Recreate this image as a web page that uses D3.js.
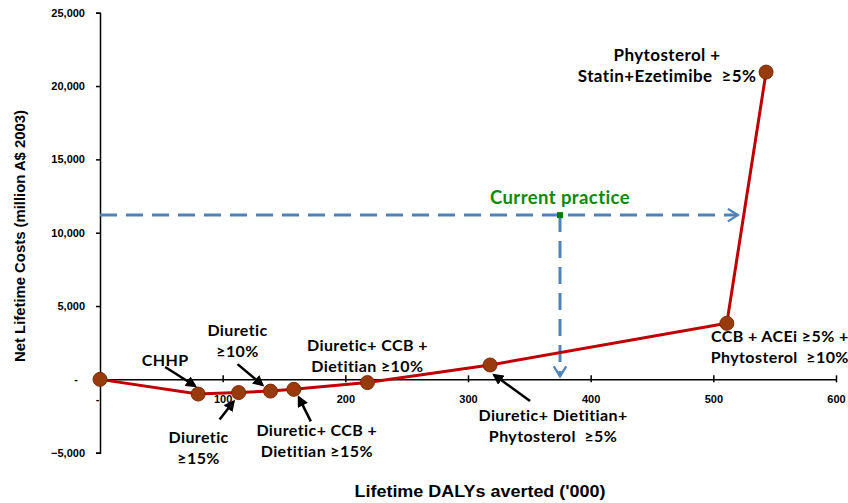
<!DOCTYPE html>
<html>
<head>
<meta charset="utf-8">
<script src="https://cdn.jsdelivr.net/npm/d3@7"></script>
<style>
  body { margin: 0; background: #fff; }
  svg text { font-family: "Liberation Sans", Arial, sans-serif; }
  .note { font-family: Lato, "Open Sans", sans-serif; font-weight: bold; font-size: 16px; fill: #000; white-space: pre; letter-spacing: 0.4px; }
</style>
</head>
<body>
<div id="chart"></div>
<script>
// strategy frontier (x = lifetime DALYs averted '000, y = net costs million A$)
const dalys = [0, 80, 113, 139, 158, 218, 318, 511, 543]
const costs = [0, -1000, -900, -800, -680, -220, 980, 3820, 20950]
const xTicks = [0, 100, 200, 300, 400, 500, 600]
const yTicks = [-5000, 0, 5000, 10000, 15000, 20000, 25000]

// current practice marker
const currentDalys = 375
const currentCost = 11200
const arrowToX = 520

// labels: point index, text lines, label offset, arrow tail/tip offsets (pixels from point)
const notes = [
  {i: 1, lines: ['CHHP'], dx: -33, dy: -28, arrow: [-33, -27, -3, -8]},
  {i: 2, lines: ['Diuretic', '≥15%'], dx: -40, dy: 50, arrow: [-19, 27, -5, 9]},
  {i: 3, lines: ['Diuretic', '≥10%'], dx: -33, dy: -55, arrow: [-33, -27, -8, -6]},
  {i: 4, lines: ['Diuretic+ CCB +', 'Dietitian ≥15%'], dx: 23, dy: 47, arrow: [17, 32, 5, 8]},
  {i: 5, lines: ['Diuretic+ CCB +', 'Dietitian ≥10%'], dx: 0, dy: -32, arrow: null},
  {i: 6, lines: ['Diuretic+ Dietitian+', 'Phytosterol  ≥5%'], dx: 63, dy: 56, arrow: [40, 36, 4, 10]},
  {i: 7, lines: ['CCB + ACEi ≥5% +', 'Phytosterol  ≥10%'], dx: 53, dy: 19, arrow: null},
  {i: 8, lines: ['Phytosterol +', 'Statin+Ezetimibe  ≥5%'], dx: -99, dy: -11, arrow: null}
]

const width = 848, height = 503
const svg = d3.select('#chart').append('svg')
  .attr('width', width).attr('height', height)

const x = d3.scaleLinear().domain([0, 600]).range([100, 836])
const y = d3.scaleLinear().domain([-5000, 25000]).range([452.7, 12.7])

const defs = svg.append('defs')
defs.append('marker').attr('id', 'blackHead')
  .attr('viewBox', '0 0 10 10').attr('refX', 8).attr('refY', 5)
  .attr('markerWidth', 4.5).attr('markerHeight', 4.5).attr('orient', 'auto')
  .append('path').attr('d', 'M0,0 L10,5 L0,10 z').attr('fill', '#000')
defs.append('marker').attr('id', 'blueHead')
  .attr('viewBox', '0 0 12 12').attr('refX', 10).attr('refY', 6)
  .attr('markerWidth', 5).attr('markerHeight', 5).attr('orient', 'auto')
  .attr('markerUnits', 'strokeWidth')
  .append('path').attr('d', 'M2,1 L10,6 L2,11').attr('fill', 'none')
  .attr('stroke', '#4f81bd').attr('stroke-width', 1.8)

// y axis
const yAxis = d3.axisLeft(y).tickValues(yTicks).tickSize(4).tickPadding(11)
  .tickFormat(d => d === 0 ? '-' : d3.format(',')(d))
const gy = svg.append('g').attr('transform', `translate(${x(0)},0)`).call(yAxis)
gy.select('.domain').attr('stroke', '#000').attr('stroke-width', 1.5)
gy.selectAll('.tick line').attr('stroke', '#000').attr('stroke-width', 1.5)
gy.selectAll('.tick text').attr('font-size', 11).attr('font-weight', 'bold').attr('fill', '#000')
  .attr('dx', d => d === 0 ? -7 : 0)

// x axis crossing at zero cost
const xAxis = d3.axisBottom(x).tickValues(xTicks).tickSizeInner(4).tickSizeOuter(0).tickPadding(12)
  .tickFormat(d => d === 0 ? '-' : d)
const gx = svg.append('g').attr('transform', `translate(0,${y(0)})`).call(xAxis)
gx.select('.domain').attr('stroke', '#000').attr('stroke-width', 1.5)
gx.selectAll('.tick line').attr('stroke', '#000').attr('stroke-width', 1.5).attr('y1', -4).attr('y2', 3)
gx.selectAll('.tick text').attr('font-size', 11).attr('font-weight', 'bold').attr('fill', '#000')
  .attr('dx', d => d === 0 ? -3 : 0)

// axis titles
svg.append('text')
  .attr('transform', `translate(25,236) rotate(-90)`)
  .attr('text-anchor', 'middle').attr('font-size', 15).attr('font-weight', 'bold')
  .attr('textLength', 252).attr('lengthAdjust', 'spacingAndGlyphs')
  .text('Net Lifetime Costs (million A$ 2003)')
svg.append('text')
  .attr('x', 480).attr('y', 497).attr('text-anchor', 'middle')
  .attr('font-size', 16).attr('font-weight', 'bold')
  .attr('textLength', 251).attr('lengthAdjust', 'spacingAndGlyphs')
  .text("Lifetime DALYs averted ('000)")

// current practice dashed guides
const dash = '17,9'
svg.append('line')
  .attr('x1', x(0)).attr('y1', y(currentCost))
  .attr('x2', x(arrowToX)).attr('y2', y(currentCost))
  .attr('stroke', '#4f81bd').attr('stroke-width', 3).attr('stroke-dasharray', dash)
  .attr('marker-end', 'url(#blueHead)')
svg.append('line')
  .attr('x1', x(currentDalys)).attr('y1', y(currentCost))
  .attr('x2', x(currentDalys)).attr('y2', y(0) - 3)
  .attr('stroke', '#4f81bd').attr('stroke-width', 3).attr('stroke-dasharray', dash)
  .attr('marker-end', 'url(#blueHead)')
svg.append('rect')
  .attr('x', x(currentDalys) - 3).attr('y', y(currentCost) - 3)
  .attr('width', 6).attr('height', 6).attr('fill', '#008000')
svg.append('text').attr('class', 'note')
  .attr('x', x(currentDalys)).attr('y', y(currentCost) - 11)
  .attr('text-anchor', 'middle').style('font-size', '18px').style('fill', '#0a8a0a')
  .attr('textLength', 140).attr('lengthAdjust', 'spacingAndGlyphs')
  .text('Current practice')

// frontier line + points
const pts = dalys.map((d, i) => ({x: d, y: costs[i]}))
const line = d3.line().x(d => x(d.x)).y(d => y(d.y))
svg.append('path').attr('d', line(pts))
  .attr('fill', 'none').attr('stroke', '#c00000').attr('stroke-width', 3)
  .attr('stroke-linejoin', 'round')
svg.selectAll('circle.pt').data(pts).enter().append('circle')
  .attr('class', 'pt')
  .attr('cx', d => x(d.x)).attr('cy', d => y(d.y)).attr('r', 7)
  .attr('fill', '#993a0c').attr('stroke', '#7a2c06').attr('stroke-width', 1)

// annotations
notes.forEach(n => {
  const px = x(dalys[n.i]), py = y(costs[n.i])
  const t = svg.append('text').attr('class', 'note').attr('text-anchor', 'middle')
  if (n.i === 8) t.style('font-size', '17px')
  n.lines.forEach((s, k) => {
    t.append('tspan').attr('x', px + n.dx).attr('y', py + n.dy + k * 21).text(s)
  })
  if (n.arrow) {
    svg.append('line')
      .attr('x1', px + n.arrow[0]).attr('y1', py + n.arrow[1])
      .attr('x2', px + n.arrow[2]).attr('y2', py + n.arrow[3])
      .attr('stroke', '#000').attr('stroke-width', 2.5)
      .attr('marker-end', 'url(#blackHead)')
  }
})
</script>
</body>
</html>
